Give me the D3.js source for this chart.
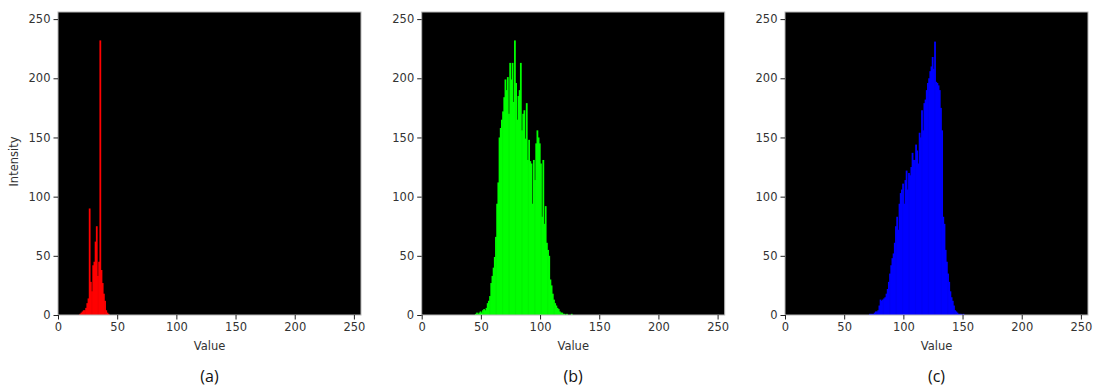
<!DOCTYPE html>
<html>
<head>
<meta charset="utf-8">
<script src="https://cdn.jsdelivr.net/npm/d3@7"></script>
<style>
  html, body { margin: 0; padding: 0; background: #fff; }
  svg { display: block; }
</style>
</head>
<body>
<svg id="chart" width="1100" height="387"></svg>
<script>
// ---- data (bin value -> count) ----
const xTicks = [0, 50, 100, 150, 200, 250];
const yTicks = [0, 50, 100, 150, 200, 250];
const captions = ["(a)", "(b)", "(c)"];
const colors = ["#ff0000", "#00ff00", "#0000ff"];

const redStart = 18;
const redCounts = [1, 2, 3, 4, 4, 6, 10, 14, 90, 28, 20, 42, 45, 62, 75, 33, 45, 232, 38, 27, 18, 12, 4, 2, 1];

const greenStart = 45;
const greenCounts = [1, 2, 1, 2, 3, 2, 4, 5, 4, 6, 10, 12, 16, 27, 33, 40, 49, 66, 94, 112,
  150, 158, 165, 172, 184, 199, 190, 201, 170, 213, 199, 213, 180, 232, 196, 165, 185, 190, 213, 156,
  170, 173, 149, 179, 131, 148, 130, 128, 94, 131, 114, 145, 156, 150, 145, 128, 83, 131, 77, 92,
  61, 55, 50, 30, 25, 18, 13, 10, 8, 6, 5, 3, 2, 2, 1, 1, 0, 1, 0, 0, 0, 1];

const blueStart = 71;
const blueCounts = [1, 1, 1, 1, 2, 3, 3, 4, 8, 13, 12, 13, 14, 15, 18, 22, 28, 35, 42, 48,
  52, 61, 75, 83, 72, 94, 103, 106, 111, 94, 114, 122, 106, 120, 118, 125, 137, 131, 131, 144,
  139, 128, 154, 150, 173, 156, 179, 182, 190, 196, 200, 206, 210, 218, 208, 231, 197, 196, 194, 190,
  175, 156, 83, 77, 55, 45, 35, 28, 20, 15, 12, 8, 4, 3, 2, 1, 1, 1, 0, 1];

const series = [
  { start: redStart, counts: redCounts },
  { start: greenStart, counts: greenCounts },
  { start: blueStart, counts: blueCounts }
];

// ---- layout ----
const svg = d3.select("#chart");
const panelLefts = [58, 421.7, 785];
const plotW = 303, plotTop = 12, plotH = 303;
const tickFont = "DejaVu Sans, sans-serif";
const fs = "11.5px";

series.forEach((s, i) => {
  const x = d3.scaleLinear().domain([0, 256]).range([0, plotW]);
  const y = d3.scaleLinear().domain([0, 256]).range([plotH, 0]);
  const g = svg.append("g").attr("transform", `translate(${panelLefts[i]},${plotTop})`);

  g.append("rect").attr("width", plotW).attr("height", plotH).attr("fill", "#000");

  const data = s.counts.map((c, k) => ({ v: s.start + k, c }));
  g.append("g").selectAll("rect").data(data.filter(d => d.c > 0)).join("rect")
    .attr("x", d => x(d.v))
    .attr("width", x(1) - x(0) + 0.6)
    .attr("y", d => y(d.c))
    .attr("height", d => y(0) - y(d.c))
    .attr("fill", colors[i]);

  g.append("rect").attr("width", plotW).attr("height", plotH)
    .attr("fill", "none").attr("stroke", "#b8b8b8").attr("stroke-width", 1);

  const xa = g.append("g").attr("transform", `translate(0,${plotH})`)
    .call(d3.axisBottom(x).tickValues(xTicks).tickSize(4.5).tickPadding(3));
  const ya = g.append("g")
    .call(d3.axisLeft(y).tickValues(yTicks).tickSize(4.5).tickPadding(3));
  [xa, ya].forEach(a => {
    a.select(".domain").remove();
    a.selectAll("line").attr("stroke", "#222");
    a.selectAll("text").attr("fill", "#333").style("font-family", tickFont).style("font-size", fs);
  });

  g.append("text").attr("x", plotW / 2).attr("y", plotH + 35)
    .attr("text-anchor", "middle").attr("fill", "#333")
    .style("font-family", tickFont).style("font-size", fs).text("Value");

  if (i === 0) {
    g.append("text").attr("transform", `translate(${-40},${plotH / 2 - 2}) rotate(-90)`)
      .attr("text-anchor", "middle").attr("fill", "#333")
      .style("font-family", tickFont).style("font-size", fs).text("Intensity");
  }

  g.append("text").attr("x", plotW / 2).attr("y", plotH + 67)
    .attr("text-anchor", "middle").attr("fill", "#111")
    .style("font-family", "Open Sans, sans-serif").style("font-size", "16px").text(captions[i]);
});
</script>
</body>
</html>
